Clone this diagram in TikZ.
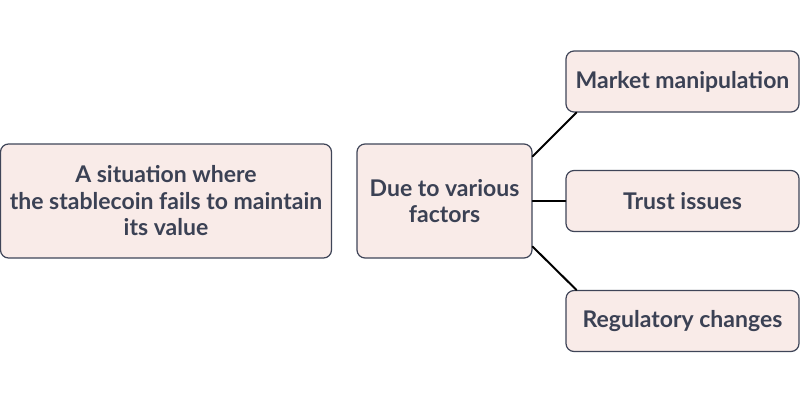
\documentclass[tikz,border=0pt]{standalone}
\usepackage{fontspec}
\setmainfont{Lato}
\usetikzlibrary{positioning}

\definecolor{boxfill}{HTML}{F9EBE8}
\definecolor{boxline}{HTML}{3F4558}
\definecolor{boxtext}{HTML}{3B4154}

\begin{document}
\begin{tikzpicture}[x=1pt, y=-1pt, line cap=round, line join=round,
    box/.style={draw=boxline, fill=boxfill, line width=1.2pt, rounded corners=8pt,
        text=boxtext, align=center, inner sep=0pt,
        font=\fontsize{23}{26.5}\selectfont\bfseries},
    link/.style={black, line width=2pt}]

\useasboundingbox (0,0) rectangle (800,402);

\node[box, minimum width=331pt, minimum height=114pt] (situation) at (166,201)
    {A situation where\\the stablecoin fails to maintain\\its value};
\node[box, minimum width=175pt, minimum height=114pt] (factors) at (444.5,201)
    {Due to various\\factors};

\node[box, minimum width=233pt, minimum height=61pt] (market) at (682.5,81.5) {Market manipulation};
\node[box, minimum width=233pt, minimum height=61pt] (trust) at (682.5,201) {Trust issues};
\node[box, minimum width=233pt, minimum height=61pt] (regulatory) at (682.5,321) {Regulatory changes};

\draw[link] ([yshift=-13pt]factors.north east) -- ([xshift=11pt]market.south west);
\draw[link] (factors.east) -- (trust.west);
\draw[link] ([yshift=12pt]factors.south east) -- ([xshift=11pt]regulatory.north west);
\end{tikzpicture}
\end{document}
